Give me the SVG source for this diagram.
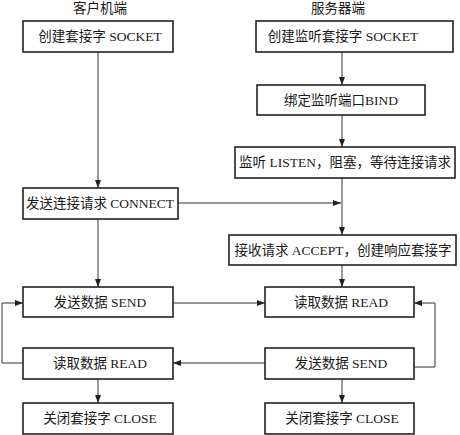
<svg xmlns="http://www.w3.org/2000/svg" width="460" height="435" viewBox="0 0 460 435">
<defs>
<marker id="ah" markerUnits="userSpaceOnUse" markerWidth="8" markerHeight="6" refX="8" refY="3" orient="auto">
<path d="M0,0 L8,3 L0,6 Z" fill="#222"/>
</marker>
<style>
.b{fill:#fff;stroke:#222;stroke-width:1.6}
.t{font-family:"Liberation Serif","Noto Sans CJK SC",serif;font-size:13.5px;fill:#1a1a1a;text-anchor:middle}
.c{fill:none;stroke:#333;stroke-width:1}
</style>
</defs>
<rect width="460" height="435" fill="#fff"/>
<text class="t" x="100" y="13">客户机端</text>
<text class="t" x="338" y="13">服务器端</text>
<g id="connectors">
<path class="c" d="M98,52 V188" marker-end="url(#ah)"/>
<path class="c" d="M98,219 V287" marker-end="url(#ah)"/>
<path class="c" d="M98,379 V403" marker-end="url(#ah)"/>
<path class="c" d="M342,52 V85" marker-end="url(#ah)"/>
<path class="c" d="M342,115 V147" marker-end="url(#ah)"/>
<path class="c" d="M342,178 V235" marker-end="url(#ah)"/>
<path class="c" d="M342,265 V287" marker-end="url(#ah)"/>
<path class="c" d="M342,379 V403" marker-end="url(#ah)"/>
<path class="c" d="M178,203 H341" marker-end="url(#ah)"/>
<path class="c" d="M173,303 H265" marker-end="url(#ah)"/>
<path class="c" d="M265,363 H173" marker-end="url(#ah)"/>
<path class="c" d="M23,363 H2 V303 H23" marker-end="url(#ah)"/>
<path class="c" d="M414,367 H435 V303 H414" marker-end="url(#ah)"/>
</g>
<g id="c-socket"><rect class="b" x="23" y="21" width="150" height="31"/><text class="t" x="100" y="41">创建套接字 SOCKET</text></g>
<g id="c-connect"><rect class="b" x="23" y="188" width="155" height="31"/><text class="t" x="100" y="208">发送连接请求 CONNECT</text></g>
<g id="c-send"><rect class="b" x="23" y="287" width="150" height="30"/><text class="t" x="100" y="307">发送数据 SEND</text></g>
<g id="c-read"><rect class="b" x="23" y="348" width="150" height="31"/><text class="t" x="100" y="368">读取数据 READ</text></g>
<g id="c-close"><rect class="b" x="23" y="403" width="150" height="31"/><text class="t" x="100" y="423">关闭套接字 CLOSE</text></g>
<g id="s-socket"><rect class="b" x="256" y="21" width="197" height="31"/><text class="t" x="343" y="41">创建监听套接字 SOCKET</text></g>
<g id="s-bind"><rect class="b" x="257" y="85" width="168" height="30"/><text class="t" x="341" y="105">绑定监听端口BIND</text></g>
<g id="s-listen"><rect class="b" x="235" y="147" width="220" height="31"/><text class="t" x="345" y="167">监听 LISTEN，阻塞，等待连接请求</text></g>
<g id="s-accept"><rect class="b" x="229" y="235" width="227" height="30"/><text class="t" x="343" y="255">接收请求 ACCEPT，创建响应套接字</text></g>
<g id="s-read"><rect class="b" x="265" y="287" width="149" height="30"/><text class="t" x="341" y="307">读取数据 READ</text></g>
<g id="s-send"><rect class="b" x="265" y="348" width="149" height="31"/><text class="t" x="341" y="368">发送数据 SEND</text></g>
<g id="s-close"><rect class="b" x="265" y="403" width="149" height="31"/><text class="t" x="342" y="423">关闭套接字 CLOSE</text></g>
</svg>
